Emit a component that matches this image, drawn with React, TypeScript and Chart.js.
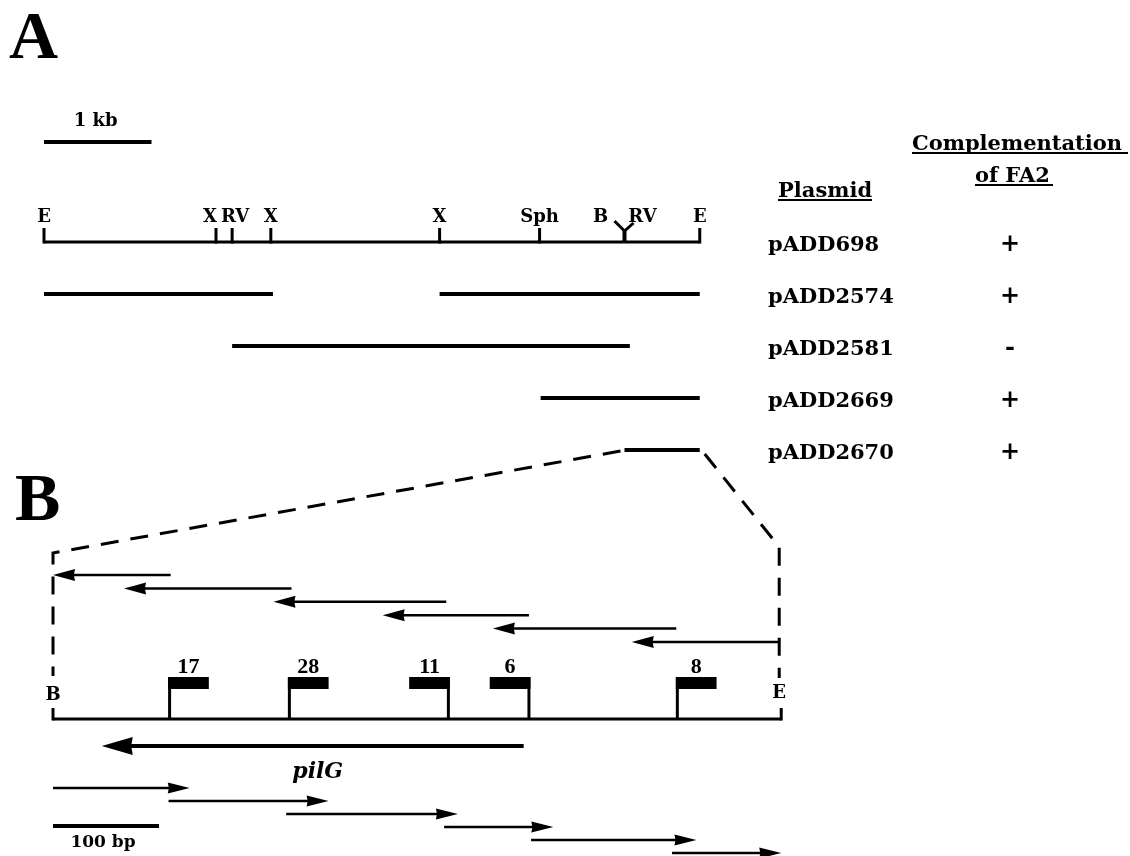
import React, { useEffect, useRef } from 'react';
import { Chart, registerables } from 'chart.js';

Chart.register(...registerables);

// ---------------- Panel A data (kb along the EcoRI fragment) ----------------
const siteNames = ['E', 'X', 'RV', 'X', 'X', 'Sph', 'B/RV', 'E'];
const siteKb = [0, 1.6, 1.75, 2.11, 3.68, 4.61, 5.4, 6.1];
const plasmids = ['pADD698', 'pADD2574', 'pADD2581', 'pADD2669', 'pADD2670'];
const complementation = ['+', '+', '-', '+', '+'];
const plasmidStartKb = [[0], [0, 3.68], [1.75], [4.62], [5.4]];
const plasmidEndKb = [[6.1], [2.13, 6.1], [5.45], [6.1], [6.1]];
const kbScaleBar = 1;

// ---------------- Panel B data (bp along the BamHI-EcoRI fragment) ----------------
const fragmentBp = 687;
const primerLabels = ['17', '28', '11', '6', '8'];
const primerBp = [110, 223, 373, 449, 589];
const primerDir = [1, 1, -1, -1, 1];
const leftReadStartBp = [111, 225, 371, 449, 588, 686];
const leftReadEndBp = [0, 67, 208, 311, 415, 546];
const rightReadStartBp = [0, 109, 220, 369, 451, 584];
const rightReadEndBp = [129, 260, 382, 472, 607, 687];
const pilGStartBp = 444;
const pilGEndBp = 46;
const bpScaleBar = 100;

// ---------------- layout (pixels) ----------------
const W = 1130;
const H = 856;
const A_X0 = 44;
const A_PX = 107.5;
const B_X0 = 53;
const B_PX = 1.06;
const MAP_Y = 242;
const ROW_STEP = 52;
const SITE_TICK = 14;
const SITE_LABEL_BASE = 222;
const siteLabelNudge = [0, -6, 3, 0, 0, 0, 0, 0];
const KB_BAR_Y = 142;
const NAME_X = 768;
const SIGN_X = 1010;
const B_LINE_Y = 719;
const BOX_TOP = 677;
const BOX_H = 12;
const BOX_W_BP = 37;
const TOP_READ_Y0 = 575;
const TOP_READ_STEP = 13.4;
const BOT_READ_Y0 = 788;
const BOT_READ_STEP = 13;
const PILG_Y = 746;
const BP_BAR_Y = 826;

const SERIF = '"DejaVu Serif", serif';
const LIB = '"Liberation Serif", serif';

export default function App() {
  const ref = useRef<HTMLCanvasElement>(null);

  useEffect(() => {
    document.body.style.margin = '0';
    const canvas = ref.current;
    if (!canvas) return;

    const datasets: any[] = [];
    const seg = (xAxisID: string, pts: number[][], width: number) => {
      datasets.push({
        type: 'line',
        xAxisID,
        yAxisID: 'y',
        data: pts.map(([x, y]) => ({ x, y })),
        borderColor: '#000',
        borderWidth: width,
        pointRadius: 0,
        showLine: true,
        fill: false,
        tension: 0,
        borderCapStyle: 'butt',
        borderJoinStyle: 'miter',
      });
    };

    // Panel A: restriction map and plasmid inserts
    plasmids.forEach((_, i) => {
      const y = MAP_Y + i * ROW_STEP;
      plasmidStartKb[i].forEach((s, j) => {
        seg('xA', [[s, y], [plasmidEndKb[i][j], y]], i === 0 ? 3 : 4);
      });
    });
    siteKb.forEach((kb, i) => {
      if (siteNames[i] === 'B/RV') {
        seg('xA', [[kb, MAP_Y], [kb, MAP_Y - 11]], 4);
        seg('xA', [[kb - 10 / A_PX, MAP_Y - 21], [kb, MAP_Y - 11], [kb + 9 / A_PX, MAP_Y - 19]], 3);
      } else {
        seg('xA', [[kb, MAP_Y + 1.5], [kb, MAP_Y - SITE_TICK]], 3);
      }
    });
    seg('xA', [[0, KB_BAR_Y], [kbScaleBar, KB_BAR_Y]], 4);

    // Panel B: fragment, primers, reads
    seg('xB', [[0, B_LINE_Y], [fragmentBp, B_LINE_Y]], 3);
    seg('xB', [[0, B_LINE_Y + 1.5], [0, B_LINE_Y - 11]], 3);
    seg('xB', [[fragmentBp, B_LINE_Y + 1.5], [fragmentBp, B_LINE_Y - 11]], 3);
    primerBp.forEach((p) => seg('xB', [[p, B_LINE_Y], [p, BOX_TOP]], 3));
    const readLine = (s: number, e: number, y: number, head: number, w: number) => {
      const dir = Math.sign(e - s);
      seg('xB', [[s, y], [e - (dir * head * 0.6) / B_PX, y]], w);
    };
    leftReadStartBp.forEach((s, i) => readLine(s, leftReadEndBp[i], TOP_READ_Y0 + i * TOP_READ_STEP, 22, 2.5));
    rightReadStartBp.forEach((s, i) => readLine(s, rightReadEndBp[i], BOT_READ_Y0 + i * BOT_READ_STEP, 22, 2.5));
    readLine(pilGStartBp, pilGEndBp, PILG_Y, 31, 4);
    seg('xB', [[0, BP_BAR_Y], [bpScaleBar, BP_BAR_Y]], 4);

    const overlay = {
      id: 'overlay',
      afterDatasetsDraw(chart: any) {
        const ctx = chart.ctx as CanvasRenderingContext2D;
        const xA = chart.scales.xA;
        const xB = chart.scales.xB;
        const y = chart.scales.y;
        const pa = (v: number) => xA.getPixelForValue(v);
        const pb = (v: number) => xB.getPixelForValue(v);
        const py = (v: number) => y.getPixelForValue(v);
        ctx.save();
        ctx.fillStyle = '#000';
        ctx.strokeStyle = '#000';

        const head = (tipX: number, tipY: number, dir: number, len: number, half: number) => {
          ctx.beginPath();
          ctx.moveTo(tipX, tipY);
          ctx.lineTo(tipX - dir * len, tipY - half);
          ctx.lineTo(tipX - dir * len * 0.95, tipY);
          ctx.lineTo(tipX - dir * len, tipY + half);
          ctx.closePath();
          ctx.fill();
        };
        leftReadStartBp.forEach((s, i) => {
          const e = leftReadEndBp[i];
          head(pb(e), py(TOP_READ_Y0 + i * TOP_READ_STEP), Math.sign(e - s), 22, 6);
        });
        rightReadStartBp.forEach((s, i) => {
          const e = rightReadEndBp[i];
          head(pb(e), py(BOT_READ_Y0 + i * BOT_READ_STEP), Math.sign(e - s), 22, 5.5);
        });
        head(pb(pilGEndBp), py(PILG_Y), Math.sign(pilGEndBp - pilGStartBp), 31, 9);

        // primer flags
        primerBp.forEach((p, i) => {
          const x0 = pb(p) - primerDir[i] * 1.5;
          const x1 = pb(p + primerDir[i] * BOX_W_BP);
          ctx.fillRect(Math.min(x0, x1), py(BOX_TOP), Math.abs(x1 - x0), BOX_H);
          ctx.font = `bold 22px ${LIB}`;
          ctx.textAlign = 'center';
          ctx.textBaseline = 'alphabetic';
          ctx.fillText(primerLabels[i], (x0 + x1) / 2, py(BOX_TOP - 4));
        });

        // dashed zoom lines from pADD2670 to panel B
        const r4 = py(MAP_Y + 4 * ROW_STEP);
        ctx.lineWidth = 3;
        ctx.setLineDash([18, 12]);
        ctx.beginPath();
        ctx.moveTo(pa(plasmidStartKb[4][0]) - 4, r4 + 1);
        ctx.lineTo(pb(0), py(553));
        ctx.lineTo(pb(0), py(676));
        ctx.stroke();
        ctx.beginPath();
        ctx.moveTo(pa(plasmidEndKb[4][0]) + 5, r4 + 4);
        ctx.lineTo(pb(fragmentBp) - 2, py(547));
        ctx.lineTo(pb(fragmentBp) - 2, py(678));
        ctx.stroke();
        ctx.setLineDash([]);

        // text
        const text = (t: string, x: number, yy: number, font: string, align: CanvasTextAlign = 'center') => {
          ctx.font = font;
          ctx.textAlign = align;
          ctx.textBaseline = 'alphabetic';
          ctx.fillText(t, x, yy);
        };
        const underline = (x0: number, x1: number, yy: number) => ctx.fillRect(x0, yy, x1 - x0, 2);

        text('A', 9, 58, `bold 68px ${LIB}`, 'left');
        text('B', 15, 520, `bold 68px ${LIB}`, 'left');
        text('1 kb', pa(kbScaleBar / 2) - 2, 126, `bold 18px ${SERIF}`);

        siteNames.forEach((n, i) => {
          const x = pa(siteKb[i]) + siteLabelNudge[i];
          if (n === 'B/RV') {
            text('B', x - 24, SITE_LABEL_BASE, `bold 18px ${SERIF}`);
            text('RV', x + 18, SITE_LABEL_BASE, `bold 18px ${SERIF}`);
          } else {
            text(n, x, SITE_LABEL_BASE, `bold 18px ${SERIF}`);
          }
        });

        text('Complementation', 912, 150, `bold 21px ${SERIF}`, 'left');
        underline(912, 1128, 152);
        text('of FA2', 975, 182, `bold 21px ${SERIF}`, 'left');
        underline(975, 1053, 184);
        text('Plasmid', 778, 197, `bold 21px ${SERIF}`, 'left');
        underline(778, 872, 199);

        plasmids.forEach((n, i) => {
          const yy = py(MAP_Y + i * ROW_STEP);
          text(n, NAME_X, yy + 8.5, `bold 21px ${SERIF}`, 'left');
          text(complementation[i], SIGN_X, yy + 8.5, `bold 24px ${SERIF}`);
        });

        text('B', pb(0), 700, `bold 18px ${SERIF}`);
        text('E', pb(fragmentBp) - 2, 698, `bold 18px ${SERIF}`);
        text('pilG', pb((pilGStartBp + pilGEndBp) / 2) + 5, 778, `italic bold 22px ${SERIF}`);
        text('100 bp', pb(bpScaleBar / 2) - 3, 847, `bold 17px ${SERIF}`);

        ctx.restore();
      },
    };

    const chart = new Chart(canvas, {
      type: 'scatter',
      data: { datasets },
      options: {
        animation: false,
        responsive: false,
        events: [],
        layout: { padding: 0 },
        plugins: { legend: { display: false }, tooltip: { enabled: false } },
        scales: {
          xA: { type: 'linear', display: false, min: -A_X0 / A_PX, max: (W - A_X0) / A_PX },
          xB: { type: 'linear', display: false, min: -B_X0 / B_PX, max: (W - B_X0) / B_PX },
          y: { type: 'linear', display: false, min: 0, max: H, reverse: true },
        },
      },
      plugins: [overlay],
    });
    return () => chart.destroy();
  }, []);

  return <canvas ref={ref} width={W} height={H} style={{ display: 'block', background: '#fff' }} />;
}
